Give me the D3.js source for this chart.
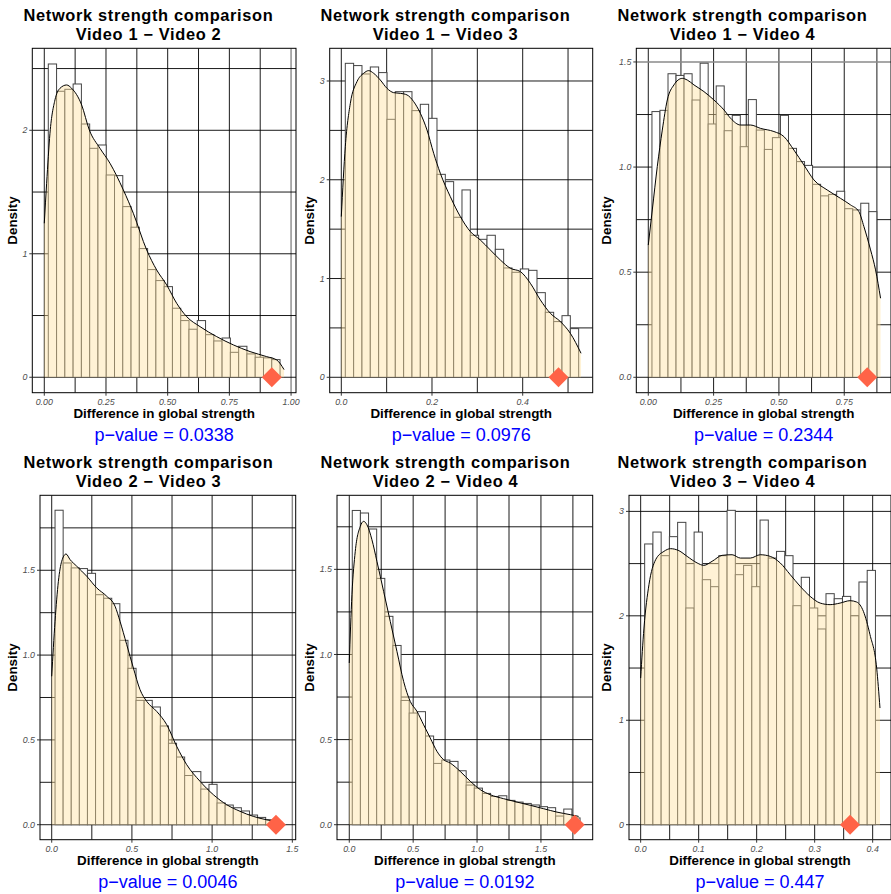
<!DOCTYPE html>
<html>
<head>
<meta charset="utf-8">
<script src="https://cdn.jsdelivr.net/npm/d3@7"></script>
<style>
body { margin: 0; background: #fff; }
text { font-family: "Liberation Sans", Arial, Helvetica, sans-serif; }
</style>
</head>
<body>
<svg id="chart" width="891" height="894"></svg>
<script>
// comparisons and results
const comparisons = ['Video 1 − Video 2', 'Video 1 − Video 3', 'Video 1 − Video 4',
                     'Video 2 − Video 3', 'Video 2 − Video 4', 'Video 3 − Video 4'];
const pValues = ['0.0338', '0.0976', '0.2344', '0.0046', '0.0192', '0.447'];
const observed = [0.922, 0.479, 0.838, 1.398, 1.764, 0.361];

// histogram bins (density scale), first bin edge and bin width
const binStart = [0.0162, 0.0088, 0.0140, 0.0208, 0.0235, 0.0069];
const binWidth = [0.03354, 0.01838, 0.03074, 0.0505, 0.06366, 0.01421];

const hist12 = [2.537, 2.316, 2.332, 2.375, 2.051, 1.854, 1.881, 1.638, 1.633, 1.382, 1.215, 1.042, 0.872, 0.783,
                0.734, 0.559, 0.459, 0.389, 0.459, 0.345, 0.294, 0.318, 0.202, 0.251, 0.189, 0.162, 0.157, 0.143];
const hist13 = [3.179, 3.156, 3.071, 3.142, 3.085, 2.612, 2.892, 2.892, 2.700, 2.764, 2.622, 2.055, 1.981, 1.620,
                1.897, 1.438, 1.397, 1.438, 1.296, 1.107, 1.063, 1.097, 1.083, 0.857, 0.658, 0.564, 0.624, 0.493];
const hist14 = [1.264, 1.270, 1.444, 1.436, 1.444, 1.319, 1.494, 1.205, 1.386, 1.173, 1.246, 1.097, 1.321, 1.176,
                1.084, 1.140, 1.246, 1.089, 1.026, 1.008, 0.918, 0.863, 0.870, 0.885, 0.802, 0.796, 0.828, 0.788];
const hist23 = [1.854, 1.543, 1.514, 1.510, 1.482, 1.356, 1.335, 1.303, 1.087, 0.922, 0.733, 0.733, 0.694, 0.582,
                0.480, 0.399, 0.290, 0.313, 0.210, 0.238, 0.128, 0.116, 0.100, 0.081, 0.057, 0.043, 0.029, 0.015];
const hist24 = [1.846, 1.831, 1.737, 1.447, 1.224, 1.053, 0.730, 0.656, 0.664, 0.521, 0.360, 0.380, 0.372, 0.317,
                0.233, 0.215, 0.184, 0.166, 0.170, 0.143, 0.133, 0.125, 0.116, 0.106, 0.100, 0.051, 0.092, 0.040];
const hist34 = [2.688, 2.802, 2.576, 2.758, 2.895, 2.075, 2.802, 2.346, 2.279, 2.576, 3.010, 2.394, 2.483, 2.279,
                2.917, 2.553, 2.617, 2.576, 2.097, 2.369, 2.075, 1.874, 2.212, 2.164, 2.186, 2.000, 2.324, 2.435];

// kernel density curves [difference, density]
const dens12 = [[0, 1.247], [0.0095, 1.571], [0.023, 1.976], [0.0432, 2.246], [0.0635, 2.34], [0.0905, 2.367],
  [0.1108, 2.34], [0.1514, 2.205], [0.1824, 2.003], [0.2257, 1.854], [0.2662, 1.733], [0.3203, 1.517],
  [0.3608, 1.328], [0.4149, 1.031], [0.4554, 0.869], [0.4959, 0.748], [0.5365, 0.599], [0.577, 0.491],
  [0.6311, 0.41], [0.6986, 0.329], [0.7662, 0.262], [0.8338, 0.208], [0.9014, 0.167], [0.9419, 0.14], [0.9716, 0.062]];
const dens13 = [[0, 1.627], [0.0088, 2.335], [0.0199, 2.774], [0.0346, 2.994], [0.0493, 3.078], [0.0603, 3.105],
  [0.0713, 3.078], [0.086, 3.01], [0.1007, 2.926], [0.1154, 2.882], [0.1301, 2.875], [0.1449, 2.859],
  [0.1596, 2.791], [0.1743, 2.673], [0.189, 2.504], [0.2037, 2.268], [0.2184, 2.065], [0.2404, 1.829],
  [0.2625, 1.627], [0.2846, 1.475], [0.3066, 1.39], [0.3287, 1.289], [0.3507, 1.188], [0.3728, 1.104],
  [0.3949, 1.07], [0.4169, 0.952], [0.439, 0.783], [0.461, 0.648], [0.4831, 0.564], [0.5051, 0.445], [0.5287, 0.243]];
const dens14 = [[0, 0.629], [0.0153, 0.796], [0.0344, 1.002], [0.0536, 1.176], [0.0727, 1.319], [0.0982, 1.391],
  [0.1301, 1.422], [0.1492, 1.414], [0.1747, 1.391], [0.213, 1.359], [0.2513, 1.319], [0.2895, 1.272],
  [0.3151, 1.232], [0.3533, 1.2], [0.3916, 1.2], [0.4298, 1.184], [0.4809, 1.169], [0.5191, 1.145],
  [0.5574, 1.081], [0.5957, 1.01], [0.6339, 0.939], [0.6849, 0.891], [0.736, 0.851], [0.7742, 0.82],
  [0.8061, 0.788], [0.8253, 0.717], [0.8508, 0.606], [0.8699, 0.511], [0.889, 0.376]];
const dens23 = [[0, 0.875], [0.0208, 1.199], [0.0416, 1.435], [0.0623, 1.553], [0.0893, 1.596], [0.1143, 1.563],
  [0.1558, 1.524], [0.2182, 1.465], [0.2805, 1.396], [0.3428, 1.347], [0.3948, 1.288], [0.4259, 1.199],
  [0.4675, 1.062], [0.5091, 0.924], [0.5506, 0.796], [0.5922, 0.727], [0.6545, 0.668], [0.7168, 0.59],
  [0.7791, 0.462], [0.8415, 0.354], [0.9246, 0.256], [1.0077, 0.177], [1.0908, 0.118], [1.1739, 0.079],
  [1.257, 0.049], [1.3401, 0.029], [1.4024, 0.02]];
const dens24 = [[0, 0.95], [0.0209, 1.351], [0.047, 1.606], [0.0861, 1.752], [0.1122, 1.782], [0.1383, 1.762],
  [0.1774, 1.674], [0.2165, 1.547], [0.2687, 1.371], [0.3209, 1.194], [0.3731, 1.018], [0.4253, 0.842],
  [0.4774, 0.724], [0.5296, 0.666], [0.5818, 0.587], [0.634, 0.509], [0.6862, 0.431], [0.7383, 0.382],
  [0.7905, 0.362], [0.8688, 0.313], [0.947, 0.255], [1.0253, 0.206], [1.1036, 0.176], [1.2079, 0.153],
  [1.3123, 0.133], [1.4166, 0.114], [1.521, 0.094], [1.6254, 0.074], [1.7297, 0.059], [1.7949, 0.049]];
const dens34 = [[0, 1.404], [0.0057, 1.883], [0.0143, 2.298], [0.0258, 2.537], [0.0401, 2.617], [0.0516, 2.643],
  [0.0659, 2.624], [0.0802, 2.569], [0.0974, 2.506], [0.1089, 2.483], [0.1232, 2.522], [0.1404, 2.579],
  [0.1576, 2.585], [0.1719, 2.553], [0.1891, 2.553], [0.2063, 2.585], [0.2235, 2.569], [0.2407, 2.506],
  [0.2579, 2.394], [0.2751, 2.282], [0.2923, 2.186], [0.3095, 2.122], [0.3266, 2.107], [0.3438, 2.122],
  [0.361, 2.145], [0.3725, 2.132], [0.384, 2.043], [0.3954, 1.819], [0.4069, 1.5], [0.4126, 1.117]];

// axis breaks
const xTicks = [[0, 0.25, 0.5, 0.75, 1], [0, 0.2, 0.4], [0, 0.25, 0.5, 0.75],
                [0, 0.5, 1, 1.5], [0, 0.5, 1, 1.5], [0, 0.1, 0.2, 0.3, 0.4]];
const xFormats = ['.2f', '.1f', '.2f', '.1f', '.1f', '.1f'];
const yTicks = [[0, 1, 2], [0, 1, 2, 3], [0, 0.5, 1, 1.5], [0, 0.5, 1, 1.5], [0, 0.5, 1, 1.5], [0, 1, 2, 3]];
const yFormats = ['d', 'd', '.1f', '.1f', '.1f', 'd'];

const hists = [hist12, hist13, hist14, hist23, hist24, hist34];
const denss = [dens12, dens13, dens14, dens23, dens24, dens34];

// layout of each panel (plot edges inside its column, scale limits)
const layout = [
  {left: 32.3, right: 296, xDomain: [-0.0486, 1.020], yDomain: [-0.125, 2.664], grayX: 1, grayY: null},
  {left: 32.7, right: 295.7, xDomain: [-0.0256, 0.5544], yDomain: [-0.156, 3.331], grayX: null, grayY: null},
  {left: 42.3, right: 297, xDomain: [-0.0459, 0.929], yDomain: [-0.0733, 1.565], grayX: null, grayY: 1.5},
  {left: 40, right: 295.7, xDomain: [-0.073, 1.521], yDomain: [-0.0884, 1.942], grayX: 1.5, grayY: null},
  {left: 40, right: 295.7, xDomain: [-0.096, 1.905], yDomain: [-0.088, 1.935], grayX: null, grayY: null},
  {left: 35, right: 297, xDomain: [-0.0201, 0.4316], yDomain: [-0.1437, 3.154], grayX: null, grayY: null}
];

const colW = 297;
const rowH = 447;

const svg = d3.select('#chart');

function gridValues(ticks, domain) {
  const step = (ticks[1] - ticks[0]) / 2;
  const vals = [];
  for (let k = -4; k <= 40; k++) {
    const v = Math.round((ticks[0] + k * step) * 10000) / 10000;
    if (v >= domain[0] && v <= domain[1]) vals.push(v);
  }
  return vals;
}

layout.forEach((p, i) => {
  const col = i % 3, row = Math.floor(i / 3);
  const x0 = col * colW, yOff = row * rowH;
  const top = 48.3 + yOff, bottom = 392.7 + yOff;
  const left = x0 + p.left, right = x0 + p.right;

  const x = d3.scaleLinear().domain(p.xDomain).range([left, right]);
  const y = d3.scaleLinear().domain(p.yDomain).range([bottom, top]);

  const g = svg.append('g');

  // clip
  g.append('clipPath')
      .attr('id', 'clip' + i)
    .append('rect')
      .attr('x', left).attr('y', top)
      .attr('width', right - left).attr('height', bottom - top);

  const plot = g.append('g').attr('clip-path', `url(#clip${i})`);

  plot.append('rect')
      .attr('x', left).attr('y', top)
      .attr('width', right - left).attr('height', bottom - top)
      .attr('fill', '#fff');

  // grid lines (major and minor, all black)
  plot.selectAll('.gx')
      .data(gridValues(xTicks[i], p.xDomain)).enter()
    .append('line')
      .attr('x1', d => x(d)).attr('x2', d => x(d))
      .attr('y1', top).attr('y2', bottom)
      .attr('stroke', d => d === p.grayX ? '#8a8a8a' : '#000')
      .attr('stroke-width', d => d === p.grayX ? 1.4 : 0.9);

  plot.selectAll('.gy')
      .data(gridValues(yTicks[i], p.yDomain)).enter()
    .append('line')
      .attr('x1', left).attr('x2', right)
      .attr('y1', d => y(d)).attr('y2', d => y(d))
      .attr('stroke', d => d === p.grayY ? '#8a8a8a' : '#000')
      .attr('stroke-width', d => d === p.grayY ? 1.6 : 0.9);

  // histogram
  plot.selectAll('.bar')
      .data(hists[i]).enter()
    .append('rect')
      .attr('x', (d, k) => x(binStart[i] + k * binWidth[i]))
      .attr('width', x(binWidth[i]) - x(0))
      .attr('y', d => y(d))
      .attr('height', d => y(0) - y(d))
      .attr('fill', '#fff')
      .attr('stroke', '#444')
      .attr('stroke-width', 1);

  // density
  plot.append('path')
      .datum(denss[i])
      .attr('fill', '#FFDF9A')
      .attr('fill-opacity', 0.42)
      .attr('d', d3.area()
        .x(d => x(d[0]))
        .y0(y(0))
        .y1(d => y(d[1]))
        .curve(d3.curveMonotoneX));

  plot.append('path')
      .datum(denss[i])
      .attr('fill', 'none')
      .attr('stroke', '#000')
      .attr('stroke-width', 1)
      .attr('d', d3.line()
        .x(d => x(d[0]))
        .y(d => y(d[1]))
        .curve(d3.curveMonotoneX));

  // border
  g.append('rect')
      .attr('x', left).attr('y', top)
      .attr('width', right - left).attr('height', bottom - top)
      .attr('fill', 'none')
      .attr('stroke', '#000')
      .attr('stroke-width', 1);

  // axis ticks + labels
  const fx = d3.format(xFormats[i]);
  const fy = d3.format(yFormats[i]);

  g.selectAll('.xt')
      .data(xTicks[i]).enter()
    .append('line')
      .attr('x1', d => x(d)).attr('x2', d => x(d))
      .attr('y1', bottom).attr('y2', bottom + 3)
      .attr('stroke', '#333');

  g.selectAll('.xl')
      .data(xTicks[i]).enter()
    .append('text')
      .attr('x', d => x(d))
      .attr('y', bottom + 12.3)
      .attr('text-anchor', 'middle')
      .attr('font-size', 8.8)
      .attr('font-style', 'italic')
      .attr('fill', '#4d4d4d')
      .text(d => fx(d));

  g.selectAll('.yt')
      .data(yTicks[i]).enter()
    .append('line')
      .attr('x1', left - 3).attr('x2', left)
      .attr('y1', d => y(d)).attr('y2', d => y(d))
      .attr('stroke', '#333');

  g.selectAll('.yl')
      .data(yTicks[i]).enter()
    .append('text')
      .attr('x', left - 5)
      .attr('y', d => y(d))
      .attr('dy', '0.35em')
      .attr('text-anchor', 'end')
      .attr('font-size', 8.8)
      .attr('font-style', 'italic')
      .attr('fill', '#4d4d4d')
      .text(d => fy(d));

  // observed difference
  g.append('path')
      .attr('d', `M${x(observed[i])},${y(0) - 10}l10,10l-10,10l-10,-10z`)
      .attr('fill', '#FF6347');

  // two-line title
  const cx = x0 + colW / 2;
  [['Network strength comparison', 21.2], [comparisons[i], 39.8]].forEach(([t, by]) => {
    g.append('text')
        .attr('x', cx).attr('y', by + yOff)
        .attr('text-anchor', 'middle')
        .attr('font-size', 16.4)
        .attr('font-weight', 'bold')
        .attr('letter-spacing', 0.65)
        .text(t);
  });

  const pc = (left + right) / 2;
  g.append('text')
      .attr('x', pc).attr('y', 417.7 + yOff)
      .attr('text-anchor', 'middle')
      .attr('font-size', 13.4)
      .attr('font-weight', 'bold')
      .text('Difference in global strength');

  g.append('text')
      .attr('transform', `translate(${x0 + 16.7},${(top + bottom) / 2}) rotate(-90)`)
      .attr('text-anchor', 'middle')
      .attr('font-size', 13.4)
      .attr('font-weight', 'bold')
      .text('Density');

  g.append('text')
      .attr('x', pc).attr('y', 441 + yOff)
      .attr('text-anchor', 'middle')
      .attr('font-size', 18)
      .attr('fill', '#0000FF')
      .text('p−value = ' + pValues[i]);
});
</script>
</body>
</html>
